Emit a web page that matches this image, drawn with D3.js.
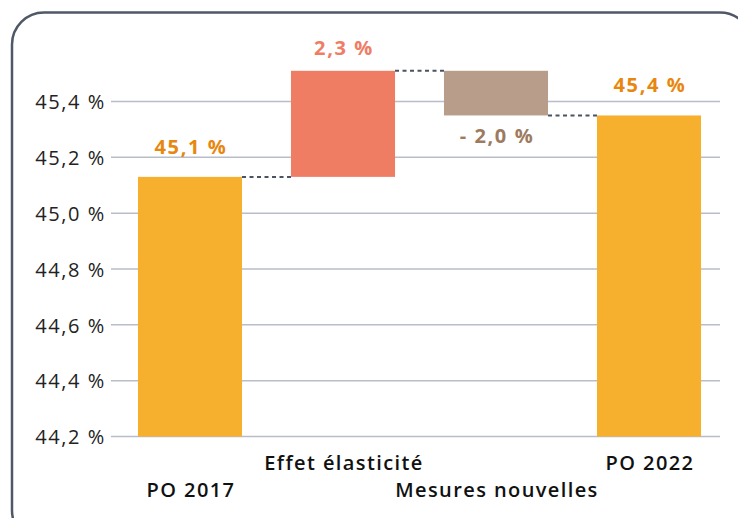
<!DOCTYPE html>
<html>
<head>
<meta charset="utf-8">
<script src="https://cdn.jsdelivr.net/npm/d3@7"></script>
<style>
  html, body { margin: 0; padding: 0; background: #fff; }
  svg { display: block; font-family: "Open Sans", "Noto Sans", sans-serif; }
</style>
</head>
<body>
<div id="chart"></div>
<script>
// ---- data ----
var categories = ['PO 2017', 'Effet élasticité', 'Mesures nouvelles', 'PO 2022'];
var barStart   = [44.2, 45.13, 45.51, 44.2];   // bas (ou départ) de chaque barre
var barEnd     = [45.13, 45.51, 45.35, 45.35]; // niveau atteint
var valueLabels = ['45,1 %', '2,3 %', '- 2,0 %', '45,4 %'];
var barKind    = ['total', 'up', 'down', 'total'];
var yTicks     = [44.2, 44.4, 44.6, 44.8, 45.0, 45.2, 45.4];

var fillColor  = { total: '#f7af2e', up: '#ef7d64', down: '#b89e8a' };
var textColor  = { total: '#e8870f', up: '#ef7d64', down: '#9d7b61' };
var labelGap   = { total: -23, up: -16, down: 28 };  // décalage du libellé de valeur

var W = 738, H = 518;
var svg = d3.select('#chart').append('svg').attr('width', W).attr('height', H);

// cadre arrondi
svg.append('rect')
  .attr('x', 12).attr('y', 12.5)
  .attr('width', 740).attr('height', 530)
  .attr('rx', 32).attr('ry', 32)
  .attr('fill', 'none')
  .attr('stroke', '#4f5867')
  .attr('stroke-width', 2.5);

var x = d3.scaleBand()
  .domain(categories)
  .range([113.5, 725.5])
  .paddingInner(0.32)
  .paddingOuter(0.16);

var y = d3.scaleLinear().domain([44.2, 45.4]).range([436.5, 101.5]);

// grille + libellés de l'axe Y
var yAxis = d3.axisLeft(y)
  .tickValues(yTicks)
  .tickSize(0)
  .tickPadding(0)
  .tickFormat(function(d){ return d3.format('.1f')(d).replace('.', ',') + ' %'; });

var gAxis = svg.append('g').attr('transform', 'translate(106,0)').call(yAxis);
gAxis.select('.domain').remove();
gAxis.selectAll('text')
  .attr('font-size', 20)
  .attr('letter-spacing', 1.6)
  .attr('font-family', '"Open Sans", "Noto Sans", sans-serif')
  .attr('fill', '#222')
  .attr('dy', '0.36em');

svg.append('g').selectAll('line')
  .data(yTicks)
  .enter().append('line')
  .attr('x1', 111).attr('x2', 720)
  .attr('y1', function(d){ return y(d); })
  .attr('y2', function(d){ return y(d); })
  .attr('stroke', '#b8bdc7')
  .attr('stroke-width', 1.5);

// barres
svg.append('g').selectAll('rect')
  .data(categories)
  .enter().append('rect')
  .attr('x', function(d){ return x(d); })
  .attr('width', x.bandwidth())
  .attr('y', function(d, i){ return y(Math.max(barStart[i], barEnd[i])); })
  .attr('height', function(d, i){ return Math.abs(y(barStart[i]) - y(barEnd[i])); })
  .attr('fill', function(d, i){ return fillColor[barKind[i]]; });

// pointillés de liaison
svg.append('g').selectAll('line')
  .data(categories.slice(0, -1))
  .enter().append('line')
  .attr('x1', function(d){ return x(d) + x.bandwidth(); })
  .attr('x2', function(d, i){ return x(categories[i + 1]); })
  .attr('y1', function(d, i){ return y(barEnd[i]); })
  .attr('y2', function(d, i){ return y(barEnd[i]); })
  .attr('stroke', '#4a5361')
  .attr('stroke-width', 2)
  .attr('stroke-dasharray', '4,3.5');

// valeurs
svg.append('g').selectAll('text')
  .data(valueLabels)
  .enter().append('text')
  .attr('x', function(d, i){ return x(categories[i]) + x.bandwidth() / 2 + 1; })
  .attr('y', function(d, i){
    if (barKind[i] == 'down') return y(barEnd[i]) + labelGap.down;
    return y(Math.max(barStart[i], barEnd[i])) + labelGap[barKind[i]];
  })
  .attr('text-anchor', 'middle')
  .attr('font-size', 20)
  .attr('letter-spacing', 1.6)
  .attr('font-weight', 700)
  .attr('fill', function(d, i){ return textColor[barKind[i]]; })
  .text(function(d){ return d; });

// catégories, sur deux lignes alternées
svg.append('g').selectAll('text')
  .data(categories)
  .enter().append('text')
  .attr('x', function(d){ return x(d) + x.bandwidth() / 2 + 1; })
  .attr('y', function(d, i){ return i % 2 == 0 ? 497 : 470; })
  .attr('text-anchor', 'middle')
  .attr('font-size', 20)
  .attr('letter-spacing', 1.4)
  .attr('font-weight', 600)
  .attr('fill', '#111')
  .text(function(d){ return d; });
</script>
</body>
</html>
